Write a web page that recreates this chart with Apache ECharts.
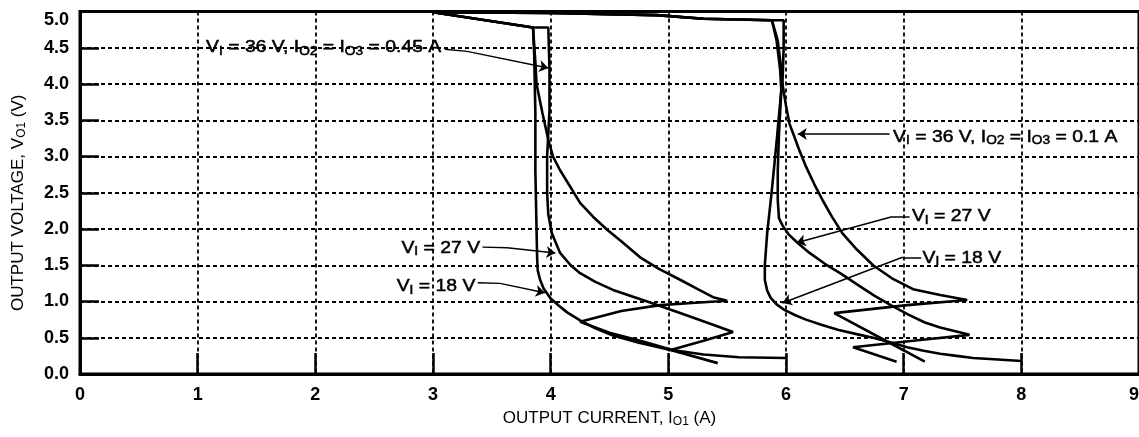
<!DOCTYPE html>
<html><head><meta charset="utf-8">
<script src="https://cdn.jsdelivr.net/npm/echarts@6/dist/echarts.min.js"></script>
<style>html,body{margin:0;padding:0;background:#fff}#c{width:1139px;height:437px}</style>
</head><body><div id="c"></div>
<script>
// ---- tick labels ----
const xTickLabels = ['0','1','2','3','4','5','6','7','8','9'];
const yTickLabels = ['0.0','0.5','1.0','1.5','2.0','2.5','3.0','3.5','4.0','4.5','5.0'];

// ---- curves: [IO1 (A), VO1 (V)] ----
// IO2 = IO3 = 0.45 A
const vi18_045 = [[3.0,4.99],[3.85,4.78],[3.86,4.4],[3.87,3.6],[3.87,2.8],[3.88,2.0],[3.885,1.6],[3.89,1.43],[3.91,1.3],[3.94,1.18],[4.0,1.04],[4.07,0.94],[4.14,0.85],[4.25,0.74],[4.38,0.63],[4.53,0.53],[4.75,0.43],[4.99,0.34],[5.3,0.27],[5.6,0.23],[6.0,0.22]];
const vi27_045 = [[3.0,4.99],[3.85,4.78],[3.98,4.78],[3.99,4.2],[3.99,3.64],[3.97,3.0],[3.97,2.5],[3.98,2.2],[4.01,1.94],[4.08,1.67],[4.17,1.5],[4.25,1.39],[4.38,1.27],[4.53,1.16],[4.82,1.0],[5.10,0.84],[5.38,0.68],[5.55,0.58],[5.3,0.46],[5.02,0.33],[5.42,0.15]];
const vi36_045 = [[3.0,4.99],[3.85,4.78],[3.87,4.3],[3.88,4.0],[3.93,3.6],[3.98,3.23],[4.02,3.0],[4.08,2.81],[4.16,2.6],[4.25,2.36],[4.36,2.17],[4.48,1.99],[4.6,1.83],[4.76,1.61],[4.92,1.45],[5.10,1.30],[5.25,1.17],[5.38,1.06],[5.50,1.01],[5.2,0.98],[4.93,0.95],[4.6,0.87],[4.25,0.72],[4.5,0.57],[4.8,0.44],[5.1,0.30]];
// IO2 = IO3 = 0.1 A
const vi18_01 = [[3.0,4.99],[4.0,4.98],[4.9,4.95],[5.3,4.9],[5.88,4.88],[5.92,4.6],[5.95,4.2],[5.96,3.92],[5.92,3.2],[5.88,2.54],[5.84,1.94],[5.82,1.5],[5.82,1.3],[5.84,1.15],[5.87,1.05],[5.92,0.96],[5.99,0.88],[6.08,0.81],[6.17,0.75],[6.3,0.68],[6.44,0.61],[6.6,0.55],[6.74,0.50],[6.9,0.43],[7.03,0.37],[7.17,0.32],[7.31,0.28],[7.45,0.25],[7.59,0.22],[7.8,0.20],[8.0,0.18]];
const vi27_01 = [[3.0,4.99],[4.0,4.98],[4.9,4.95],[5.3,4.9],[5.88,4.88],[5.93,4.6],[5.96,4.2],[5.96,3.9],[5.94,3.3],[5.93,2.8],[5.93,2.4],[5.94,2.15],[5.97,2.05],[6.02,1.93],[6.09,1.82],[6.2,1.67],[6.33,1.52],[6.47,1.38],[6.6,1.24],[6.75,1.08],[6.89,0.95],[7.04,0.82],[7.18,0.71],[7.31,0.64],[7.56,0.54],[7.14,0.47],[6.57,0.37],[6.94,0.17]];
const vi36_01 = [[3.0,4.99],[4.0,4.98],[4.9,4.95],[5.3,4.9],[5.88,4.88],[5.98,4.88],[5.98,4.5],[5.97,4.0],[6.0,3.7],[6.03,3.45],[6.06,3.32],[6.11,3.1],[6.17,2.86],[6.24,2.62],[6.31,2.40],[6.39,2.17],[6.48,1.94],[6.6,1.72],[6.74,1.50],[6.9,1.32],[7.08,1.17],[7.31,1.09],[7.54,1.02],[7.03,0.95],[6.41,0.84],[6.8,0.5],[7.18,0.17]];

const curves = [
  {name:'VI = 18 V, IO2 = IO3 = 0.45 A', data: vi18_045},
  {name:'VI = 27 V, IO2 = IO3 = 0.45 A', data: vi27_045},
  {name:'VI = 36 V, IO2 = IO3 = 0.45 A', data: vi36_045},
  {name:'VI = 18 V, IO2 = IO3 = 0.1 A', data: vi18_01},
  {name:'VI = 27 V, IO2 = IO3 = 0.1 A', data: vi27_01},
  {name:'VI = 36 V, IO2 = IO3 = 0.1 A', data: vi36_01}
];

// ---- annotations (data coordinates) ----
const annoTexts = [
  '{n|V}{s|I}{n| = 36 V, I}{s|O2}{n| = I}{s|O3}{n| = 0.45 A}',
  '{n|V}{s|I}{n| = 36 V, I}{s|O2}{n| = I}{s|O3}{n| = 0.1 A}',
  '{n|V}{s|I}{n| = 27 V}',
  '{n|V}{s|I}{n| = 18 V}',
  '{n|V}{s|I}{n| = 27 V}',
  '{n|V}{s|I}{n| = 18 V}'
];
const annoAnchors = [[3.07,4.50],[6.91,3.27],[7.07,2.17],[7.16,1.60],[3.40,1.74],[3.36,1.21]];
const annoAligns = ['right','left','left','left','right','right'];
const annoLeaders = [
  [[3.10,4.48],[3.29,4.45],[3.98,4.22]],
  [[6.88,3.31],[6.10,3.31]],
  [[7.05,2.17],[6.90,2.17],[6.09,1.81]],
  [[7.15,1.61],[6.99,1.61],[5.97,0.98]],
  [[3.42,1.75],[3.63,1.74],[4.04,1.67]],
  [[3.38,1.26],[3.57,1.25],[3.95,1.12]]
];

const FONT = '"Liberation Sans", Arial, Helvetica, sans-serif';
const chart = echarts.init(document.getElementById('c'), null, {renderer:'canvas'});

const segs = [];
annoLeaders.forEach(pts => {
  for (let i = 0; i < pts.length - 1; i++) {
    const last = i === pts.length - 2;
    segs.push([{coord: pts[i], symbol: 'none'}, {coord: pts[i+1], symbol: last ? 'arrow' : 'none'}]);
  }
});

const richName = {
  n: {fontSize: 17, fontFamily: FONT, color: '#000', lineHeight: 20},
  s: {fontSize: 12, fontFamily: FONT, color: '#000', verticalAlign: 'bottom', lineHeight: 15}
};

const series = curves.map(c => ({
  type: 'line', name: c.name, data: c.data, showSymbol: false, symbol: 'none',
  lineStyle: {color: '#000', width: 2.6}, z: 5, animation: false
}));
series.push({
  type: 'scatter', data: [], symbolSize: 0, silent: true,
  markLine: {silent: true, animation: false, symbolSize: 9,
    lineStyle: {color: '#000', width: 1.5, type: 'solid'}, label: {show: false},
    emphasis: {disabled: true}, data: segs}
});

chart.setOption({
  animation: false,
  backgroundColor: '#fff',
  grid: {left: 80, right: 0, top: 11.5, bottom: 63, containLabel: false, outerBoundsMode: 'none',
    show: true, borderColor: '#000', borderWidth: 3, backgroundColor: 'transparent'},
  xAxis: {
    type: 'value', min: 0, max: 9, interval: 1,
    name: '{n|OUTPUT CURRENT, I}{s|O1}{n| (A)}', nameLocation: 'middle', nameGap: 34,
    nameTextStyle: {rich: richName},
    axisLine: {show: true, lineStyle: {color: '#000', width: 3}},
    axisTick: {show: true, inside: true, length: 21, lineStyle: {color: '#000', width: 2.5}},
    splitLine: {show: true, lineStyle: {color: '#000', width: 1.8, type: [4, 3]}},
    axisLabel: {color: '#000', fontSize: 18, fontWeight: 'bold', fontFamily: FONT, margin: 12,
      formatter: v => xTickLabels[Math.round(v)], alignMaxLabel: 'right'}
  },
  yAxis: {
    type: 'value', min: 0, max: 5, interval: 0.5,
    name: '{n|OUTPUT VOLTAGE, V}{s|O1}{n| (V)}', nameLocation: 'middle', nameGap: 52, nameRotate: 90,
    nameTextStyle: {rich: richName, padding: [0, 20, 0, 0]},
    axisLine: {show: true, lineStyle: {color: '#000', width: 3}},
    axisTick: {show: true, inside: true, length: 19, lineStyle: {color: '#000', width: 2.5}},
    splitLine: {show: true, lineStyle: {color: '#000', width: 1.8, type: [4, 3]}},
    axisLabel: {color: '#000', fontSize: 18, fontWeight: 'bold', fontFamily: FONT, margin: 11,
      formatter: v => yTickLabels[Math.round(v / 0.5)], verticalAlignMaxLabel: 'top'}
  },
  series: series
});

const richAnno = {
  n: {fontSize: 17, fontFamily: FONT, fill: '#000', lineHeight: 20},
  s: {fontSize: 12, fontFamily: FONT, fill: '#000', lineHeight: 15, verticalAlign: 'bottom'}
};
const graphics = annoTexts.map((t, i) => {
  const p = chart.convertToPixel({gridIndex: 0}, annoAnchors[i]);
  return {type: 'text', x: p[0], y: p[1], scaleX: 1.14, z: 20, silent: true,
    style: {text: t, rich: richAnno, align: annoAligns[i], verticalAlign: 'middle', fill: '#000', fontSize: 17, fontFamily: FONT,
      stroke: '#000', lineWidth: 0.5}};
});
chart.setOption({graphic: graphics});
</script>
</body></html>
